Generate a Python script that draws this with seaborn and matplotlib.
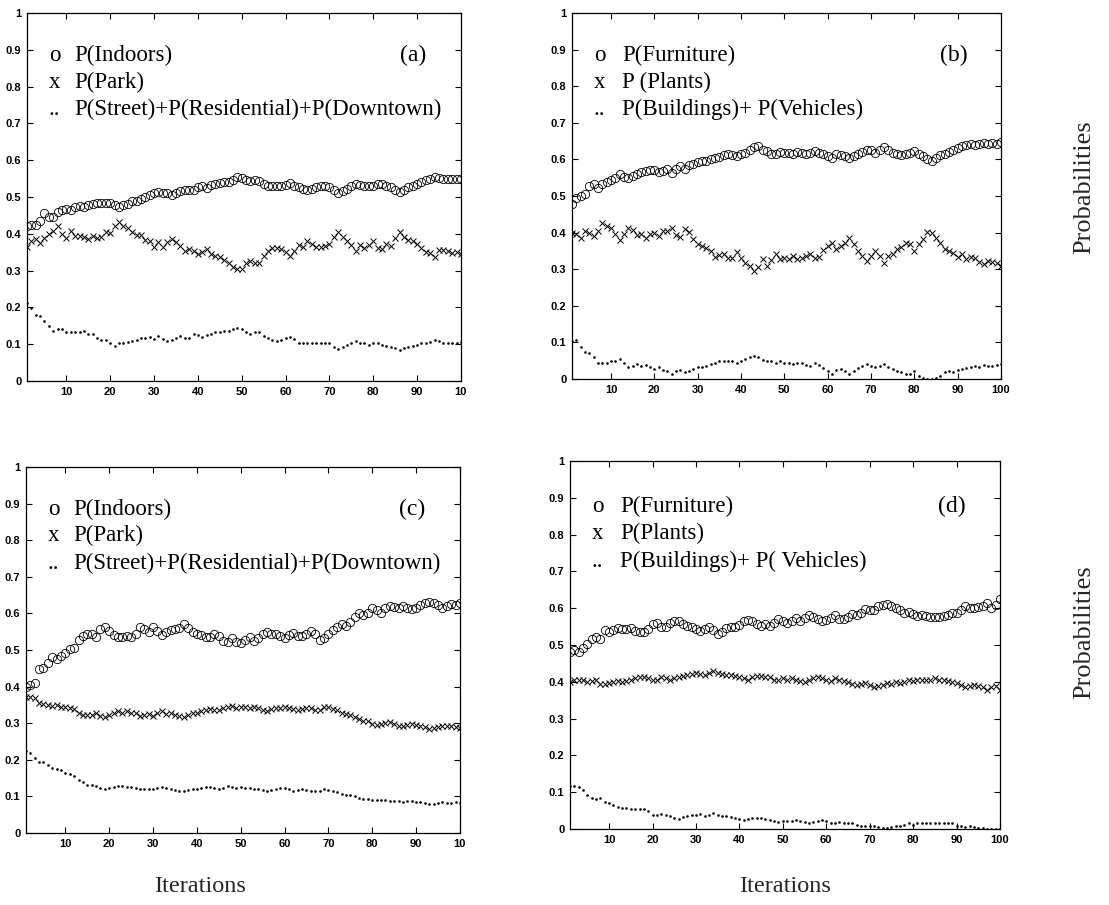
import numpy as np
import pandas as pd
import matplotlib
matplotlib.use("Agg")
import matplotlib.pyplot as plt
import seaborn as sns

# =====================================
# DATA
# =====================================

iterations = list(range(1, 101))

# panel (a)
a_indoors = [
    0.420, 0.425, 0.425, 0.436, 0.456, 0.447, 0.447, 0.459, 0.465, 0.468,
    0.464, 0.473, 0.475, 0.473, 0.477, 0.480, 0.485, 0.485, 0.484, 0.485,
    0.477, 0.473, 0.477, 0.480, 0.488, 0.490, 0.495, 0.500, 0.506, 0.510,
    0.513, 0.510, 0.510, 0.505, 0.510, 0.516, 0.520, 0.520, 0.518, 0.527,
    0.530, 0.525, 0.532, 0.535, 0.537, 0.540, 0.540, 0.547, 0.554, 0.552,
    0.545, 0.543, 0.545, 0.543, 0.536, 0.531, 0.529, 0.529, 0.531, 0.534,
    0.538, 0.531, 0.527, 0.522, 0.520, 0.522, 0.527, 0.529, 0.531, 0.527,
    0.520, 0.510, 0.515, 0.522, 0.529, 0.536, 0.534, 0.531, 0.529, 0.531,
    0.536, 0.536, 0.531, 0.527, 0.520, 0.513, 0.520, 0.527, 0.531, 0.536,
    0.540, 0.545, 0.549, 0.554, 0.553, 0.550, 0.548, 0.548, 0.550, 0.549,
]
a_park = [
    0.365, 0.380, 0.386, 0.375, 0.389, 0.400, 0.408, 0.420, 0.400, 0.389,
    0.407, 0.395, 0.395, 0.390, 0.385, 0.395, 0.389, 0.390, 0.404, 0.401,
    0.420, 0.433, 0.420, 0.416, 0.404, 0.397, 0.397, 0.383, 0.380, 0.365,
    0.377, 0.365, 0.377, 0.386, 0.377, 0.368, 0.354, 0.359, 0.354, 0.345,
    0.350, 0.359, 0.345, 0.341, 0.336, 0.329, 0.320, 0.310, 0.304, 0.304,
    0.322, 0.325, 0.320, 0.322, 0.340, 0.354, 0.361, 0.361, 0.359, 0.350,
    0.340, 0.352, 0.370, 0.365, 0.381, 0.372, 0.365, 0.363, 0.368, 0.372,
    0.390, 0.404, 0.390, 0.381, 0.370, 0.352, 0.370, 0.361, 0.370, 0.380,
    0.361, 0.359, 0.372, 0.368, 0.388, 0.404, 0.390, 0.383, 0.380, 0.372,
    0.361, 0.350, 0.347, 0.338, 0.355, 0.355, 0.352, 0.348, 0.350, 0.345,
]
a_other = [
    0.213, 0.198, 0.180, 0.177, 0.163, 0.150, 0.136, 0.141, 0.141, 0.134,
    0.134, 0.132, 0.132, 0.136, 0.129, 0.127, 0.118, 0.111, 0.111, 0.102,
    0.095, 0.102, 0.102, 0.107, 0.109, 0.111, 0.116, 0.116, 0.120, 0.113,
    0.123, 0.113, 0.109, 0.112, 0.118, 0.123, 0.118, 0.118, 0.127, 0.125,
    0.120, 0.125, 0.127, 0.132, 0.134, 0.136, 0.136, 0.141, 0.143, 0.141,
    0.132, 0.129, 0.132, 0.132, 0.123, 0.116, 0.111, 0.109, 0.111, 0.116,
    0.120, 0.113, 0.104, 0.104, 0.102, 0.104, 0.104, 0.104, 0.104, 0.102,
    0.093, 0.086, 0.093, 0.098, 0.102, 0.109, 0.104, 0.102, 0.098, 0.102,
    0.102, 0.098, 0.095, 0.093, 0.091, 0.084, 0.091, 0.093, 0.095, 0.098,
    0.102, 0.104, 0.107, 0.112, 0.110, 0.103, 0.102, 0.104, 0.104, 0.105,
]

# panel (b)
b_furniture = [
    0.477, 0.495, 0.500, 0.505, 0.527, 0.534, 0.523, 0.534, 0.539, 0.543,
    0.548, 0.559, 0.552, 0.548, 0.555, 0.561, 0.566, 0.568, 0.570, 0.570,
    0.566, 0.568, 0.573, 0.564, 0.575, 0.582, 0.573, 0.584, 0.588, 0.594,
    0.595, 0.597, 0.600, 0.603, 0.606, 0.612, 0.614, 0.612, 0.609, 0.614,
    0.618, 0.627, 0.634, 0.636, 0.627, 0.623, 0.615, 0.614, 0.621, 0.618,
    0.618, 0.615, 0.621, 0.618, 0.615, 0.618, 0.623, 0.618, 0.614, 0.609,
    0.605, 0.614, 0.612, 0.609, 0.603, 0.609, 0.615, 0.621, 0.627, 0.625,
    0.618, 0.625, 0.634, 0.625, 0.618, 0.614, 0.612, 0.615, 0.618, 0.623,
    0.615, 0.609, 0.600, 0.595, 0.605, 0.612, 0.615, 0.621, 0.625, 0.630,
    0.636, 0.639, 0.641, 0.640, 0.643, 0.645, 0.642, 0.645, 0.643, 0.648,
]
b_plants = [
    0.400, 0.395, 0.385, 0.405, 0.400, 0.391, 0.405, 0.427, 0.418, 0.412,
    0.397, 0.379, 0.395, 0.412, 0.406, 0.394, 0.397, 0.386, 0.397, 0.400,
    0.391, 0.405, 0.405, 0.412, 0.394, 0.388, 0.409, 0.403, 0.382, 0.368,
    0.364, 0.359, 0.350, 0.334, 0.339, 0.341, 0.332, 0.332, 0.348, 0.330,
    0.318, 0.309, 0.295, 0.306, 0.327, 0.309, 0.325, 0.341, 0.327, 0.330,
    0.327, 0.336, 0.327, 0.332, 0.336, 0.341, 0.330, 0.334, 0.352, 0.364,
    0.373, 0.355, 0.364, 0.373, 0.386, 0.368, 0.350, 0.336, 0.323, 0.336,
    0.350, 0.336, 0.318, 0.336, 0.341, 0.355, 0.361, 0.373, 0.368, 0.350,
    0.368, 0.382, 0.403, 0.400, 0.386, 0.373, 0.355, 0.350, 0.345, 0.334,
    0.341, 0.327, 0.334, 0.330, 0.320, 0.315, 0.322, 0.320, 0.318, 0.310,
]
b_other = [
    0.103, 0.107, 0.088, 0.073, 0.070, 0.061, 0.045, 0.043, 0.043, 0.048,
    0.050, 0.055, 0.043, 0.034, 0.036, 0.041, 0.036, 0.039, 0.032, 0.027,
    0.032, 0.025, 0.021, 0.015, 0.023, 0.025, 0.018, 0.023, 0.027, 0.032,
    0.034, 0.036, 0.041, 0.045, 0.050, 0.048, 0.050, 0.048, 0.043, 0.050,
    0.055, 0.059, 0.064, 0.059, 0.052, 0.050, 0.050, 0.045, 0.048, 0.045,
    0.045, 0.041, 0.043, 0.045, 0.039, 0.036, 0.043, 0.039, 0.030, 0.021,
    0.015, 0.025, 0.027, 0.023, 0.014, 0.023, 0.030, 0.036, 0.041, 0.036,
    0.032, 0.036, 0.041, 0.034, 0.027, 0.023, 0.018, 0.014, 0.015, 0.023,
    0.009, 0.003, 0.000, 0.000, 0.003, 0.009, 0.018, 0.021, 0.018, 0.025,
    0.027, 0.030, 0.032, 0.035, 0.033, 0.038, 0.035, 0.036, 0.037, 0.040,
]

# panel (c)
c_indoors = [
    0.400, 0.405, 0.410, 0.447, 0.450, 0.465, 0.480, 0.475, 0.484, 0.491,
    0.502, 0.505, 0.527, 0.538, 0.545, 0.544, 0.536, 0.556, 0.562, 0.553,
    0.541, 0.535, 0.536, 0.538, 0.535, 0.545, 0.562, 0.556, 0.550, 0.562,
    0.553, 0.541, 0.550, 0.555, 0.556, 0.559, 0.571, 0.559, 0.550, 0.545,
    0.541, 0.535, 0.535, 0.545, 0.538, 0.525, 0.523, 0.532, 0.523, 0.518,
    0.527, 0.536, 0.525, 0.532, 0.544, 0.550, 0.544, 0.545, 0.538, 0.532,
    0.541, 0.547, 0.538, 0.538, 0.545, 0.553, 0.545, 0.527, 0.532, 0.544,
    0.555, 0.564, 0.571, 0.565, 0.577, 0.589, 0.600, 0.595, 0.602, 0.614,
    0.609, 0.602, 0.614, 0.620, 0.618, 0.614, 0.620, 0.614, 0.611, 0.614,
    0.623, 0.629, 0.632, 0.627, 0.623, 0.616, 0.620, 0.625, 0.623, 0.629,
]
c_park = [
    0.371, 0.371, 0.368, 0.356, 0.353, 0.350, 0.347, 0.350, 0.345, 0.344,
    0.341, 0.338, 0.329, 0.323, 0.323, 0.323, 0.327, 0.320, 0.316, 0.323,
    0.327, 0.332, 0.329, 0.332, 0.329, 0.327, 0.320, 0.323, 0.325, 0.320,
    0.329, 0.332, 0.325, 0.327, 0.323, 0.320, 0.318, 0.323, 0.327, 0.329,
    0.332, 0.336, 0.338, 0.336, 0.335, 0.341, 0.344, 0.347, 0.341, 0.345,
    0.344, 0.341, 0.345, 0.341, 0.336, 0.332, 0.338, 0.341, 0.341, 0.344,
    0.341, 0.338, 0.335, 0.338, 0.341, 0.341, 0.336, 0.335, 0.345, 0.344,
    0.338, 0.335, 0.329, 0.325, 0.323, 0.316, 0.311, 0.307, 0.305, 0.298,
    0.295, 0.298, 0.300, 0.302, 0.298, 0.293, 0.293, 0.295, 0.298, 0.295,
    0.293, 0.289, 0.284, 0.286, 0.289, 0.293, 0.291, 0.293, 0.289, 0.286,
]
c_other = [
    0.223, 0.218, 0.205, 0.195, 0.193, 0.186, 0.177, 0.175, 0.173, 0.165,
    0.162, 0.156, 0.145, 0.138, 0.132, 0.132, 0.129, 0.123, 0.120, 0.123,
    0.125, 0.129, 0.127, 0.125, 0.125, 0.123, 0.120, 0.120, 0.120, 0.120,
    0.123, 0.125, 0.123, 0.120, 0.118, 0.116, 0.116, 0.118, 0.120, 0.120,
    0.123, 0.125, 0.125, 0.123, 0.120, 0.123, 0.127, 0.125, 0.123, 0.125,
    0.123, 0.123, 0.120, 0.120, 0.118, 0.116, 0.118, 0.120, 0.123, 0.123,
    0.120, 0.116, 0.118, 0.120, 0.118, 0.116, 0.114, 0.116, 0.120, 0.118,
    0.114, 0.111, 0.107, 0.105, 0.105, 0.102, 0.095, 0.093, 0.093, 0.089,
    0.089, 0.091, 0.089, 0.086, 0.086, 0.086, 0.084, 0.086, 0.086, 0.084,
    0.084, 0.082, 0.080, 0.080, 0.082, 0.084, 0.082, 0.082, 0.084, 0.082,
]

# panel (d)
d_furniture = [
    0.482, 0.486, 0.482, 0.491, 0.503, 0.515, 0.521, 0.515, 0.541, 0.536,
    0.541, 0.545, 0.543, 0.543, 0.545, 0.539, 0.536, 0.534, 0.543, 0.557,
    0.561, 0.550, 0.548, 0.559, 0.564, 0.564, 0.557, 0.552, 0.548, 0.543,
    0.539, 0.543, 0.548, 0.541, 0.530, 0.536, 0.545, 0.550, 0.550, 0.555,
    0.564, 0.568, 0.564, 0.557, 0.552, 0.557, 0.552, 0.561, 0.570, 0.566,
    0.561, 0.566, 0.573, 0.566, 0.573, 0.582, 0.575, 0.570, 0.566, 0.568,
    0.573, 0.582, 0.570, 0.570, 0.577, 0.585, 0.582, 0.588, 0.597, 0.595,
    0.594, 0.605, 0.609, 0.612, 0.605, 0.600, 0.595, 0.588, 0.591, 0.585,
    0.579, 0.582, 0.579, 0.577, 0.577, 0.575, 0.579, 0.582, 0.586, 0.588,
    0.595, 0.605, 0.600, 0.600, 0.603, 0.606, 0.614, 0.600, 0.610, 0.625,
]
d_plants = [
    0.400, 0.405, 0.406, 0.405, 0.400, 0.402, 0.405, 0.395, 0.394, 0.397,
    0.400, 0.403, 0.400, 0.403, 0.406, 0.409, 0.412, 0.414, 0.409, 0.405,
    0.406, 0.412, 0.409, 0.405, 0.409, 0.414, 0.415, 0.418, 0.421, 0.425,
    0.421, 0.418, 0.425, 0.430, 0.425, 0.421, 0.418, 0.418, 0.415, 0.412,
    0.409, 0.406, 0.412, 0.415, 0.415, 0.414, 0.412, 0.406, 0.406, 0.409,
    0.406, 0.409, 0.406, 0.403, 0.400, 0.405, 0.409, 0.412, 0.409, 0.406,
    0.403, 0.409, 0.406, 0.403, 0.400, 0.395, 0.391, 0.395, 0.397, 0.391,
    0.386, 0.388, 0.391, 0.397, 0.395, 0.400, 0.397, 0.400, 0.405, 0.403,
    0.405, 0.406, 0.405, 0.406, 0.409, 0.406, 0.405, 0.403, 0.400, 0.397,
    0.391, 0.386, 0.388, 0.391, 0.388, 0.385, 0.377, 0.386, 0.388, 0.377,
]
d_other = [
    0.118, 0.116, 0.115, 0.105, 0.091, 0.085, 0.082, 0.085, 0.073, 0.071,
    0.066, 0.060, 0.057, 0.057, 0.055, 0.055, 0.055, 0.055, 0.048, 0.039,
    0.039, 0.042, 0.039, 0.035, 0.030, 0.027, 0.033, 0.036, 0.039, 0.039,
    0.042, 0.036, 0.039, 0.044, 0.039, 0.035, 0.035, 0.033, 0.030, 0.027,
    0.024, 0.027, 0.030, 0.030, 0.030, 0.027, 0.024, 0.021, 0.018, 0.021,
    0.021, 0.021, 0.024, 0.021, 0.018, 0.015, 0.018, 0.021, 0.024, 0.021,
    0.016, 0.015, 0.018, 0.015, 0.016, 0.015, 0.012, 0.009, 0.009, 0.007,
    0.009, 0.005, 0.003, 0.003, 0.005, 0.007, 0.009, 0.012, 0.015, 0.012,
    0.016, 0.016, 0.016, 0.016, 0.016, 0.016, 0.015, 0.016, 0.015, 0.009,
    0.007, 0.005, 0.007, 0.005, 0.003, 0.003, 0.000, 0.000, 0.000, 0.000,
]

# legend texts
scene_labels = ["P(Indoors)", "P(Park)", "P(Street)+P(Residential)+P(Downtown)"]
object_labels_b = ["P(Furniture)", "P (Plants)", "P(Buildings)+ P(Vehicles)"]
object_labels_d = ["P(Furniture)", "P(Plants)", "P(Buildings)+ P( Vehicles)"]
symbols = ["o", "x", ".."]

x_ticks = [10, 20, 30, 40, 50, 60, 70, 80, 90, 100]
x_labels_full = ["10", "20", "30", "40", "50", "60", "70", "80", "90", "100"]
x_labels_cut = ["10", "20", "30", "40", "50", "60", "70", "80", "90", "10"]
y_ticks = [0, 0.1, 0.2, 0.3, 0.4, 0.5, 0.6, 0.7, 0.8, 0.9, 1]
y_labels = ["0", "0.1", "0.2", "0.3", "0.4", "0.5", "0.6", "0.7", "0.8", "0.9", "1"]


# =====================================
# STYLE
# =====================================

sns.set_theme(style="ticks")
plt.rcParams["font.family"] = ["Liberation Serif", "DejaVu Serif"]

fig = plt.figure(figsize=(11.09, 9.05), dpi=100)
fig.patch.set_facecolor("white")

panels = [
    dict(rect=[0.0243, 0.579, 0.3913, 0.4066], data=(a_indoors, a_park, a_other),
         labels=scene_labels, tag="(a)", xl=x_labels_cut, tx=11.7,
         rows=[0.884, 0.811, 0.737]),
    dict(rect=[0.5158, 0.5812, 0.3868, 0.4044], data=(b_furniture, b_plants, b_other),
         labels=object_labels_b, tag="(b)", xl=x_labels_full, tx=12.6,
         rows=[0.884, 0.811, 0.737]),
    dict(rect=[0.0234, 0.0796, 0.3913, 0.4044], data=(c_indoors, c_park, c_other),
         labels=scene_labels, tag="(c)", xl=x_labels_cut, tx=11.7,
         rows=[0.884, 0.813, 0.737]),
    dict(rect=[0.5140, 0.0840, 0.3877, 0.4066], data=(d_furniture, d_plants, d_other),
         labels=object_labels_d, tag="(d)", xl=x_labels_full, tx=12.6,
         rows=[0.876, 0.802, 0.726]),
]


# =====================================
# PANELS
# =====================================

for p in panels:

    ax = fig.add_axes(p["rect"])
    ax.set_facecolor("white")

    df = pd.DataFrame({
        "it": iterations,
        "first": p["data"][0],
        "second": p["data"][1],
        "rest": p["data"][2],
    })

    sns.lineplot(data=df, x="it", y="first", ax=ax, estimator=None, sort=False,
                 linestyle="", marker="o", markersize=6.0,
                 markerfacecolor="none", markeredgecolor="black",
                 markeredgewidth=0.6, color="black")

    sns.lineplot(data=df, x="it", y="second", ax=ax, estimator=None, sort=False,
                 linestyle="", marker="x", markersize=4.8,
                 markeredgecolor="black", markeredgewidth=0.7, color="black")

    sns.lineplot(data=df, x="it", y="rest", ax=ax, estimator=None, sort=False,
                 linestyle="", marker="o", markersize=1.9,
                 markerfacecolor="black", markeredgecolor="black",
                 markeredgewidth=0, color="black")

    ax.set_xlim(1, 100)
    ax.set_ylim(0, 1)
    ax.set_xticks(x_ticks, labels=p["xl"])
    ax.set_yticks(y_ticks, labels=y_labels)
    ax.set_xlabel("")
    ax.set_ylabel("")

    ax.tick_params(direction="in", top=True, right=True, length=4, width=0.8,
                   colors="black", labelsize=8, pad=4)
    for lab in ax.get_xticklabels() + ax.get_yticklabels():
        lab.set_fontfamily("Liberation Sans")
        lab.set_fontweight("bold")

    for s in ax.spines.values():
        s.set_visible(True)
        s.set_color("black")
        s.set_linewidth(0.9)

    # text legend inside the axes
    for sym, txt, y in zip(symbols, p["labels"], p["rows"]):
        ax.text(6.0, y, sym, fontsize=16.5, va="center", ha="left", color="black")
        ax.text(p["tx"], y, txt, fontsize=16.5, va="center", ha="left", color="black")

    ax.text(89, p["rows"][0], p["tag"], fontsize=17, va="center", ha="center",
            color="black")


# =====================================
# AXIS TITLES
# =====================================

fig.text(0.180, 0.020, "Iterations", fontsize=17.5, ha="center", va="center")
fig.text(0.708, 0.020, "Iterations", fontsize=17.5, ha="center", va="center")
fig.text(0.978, 0.793, "Probabilities", fontsize=19, rotation=90,
         ha="center", va="center")
fig.text(0.978, 0.302, "Probabilities", fontsize=19, rotation=90,
         ha="center", va="center")

fig.savefig("out.png", dpi=100)
